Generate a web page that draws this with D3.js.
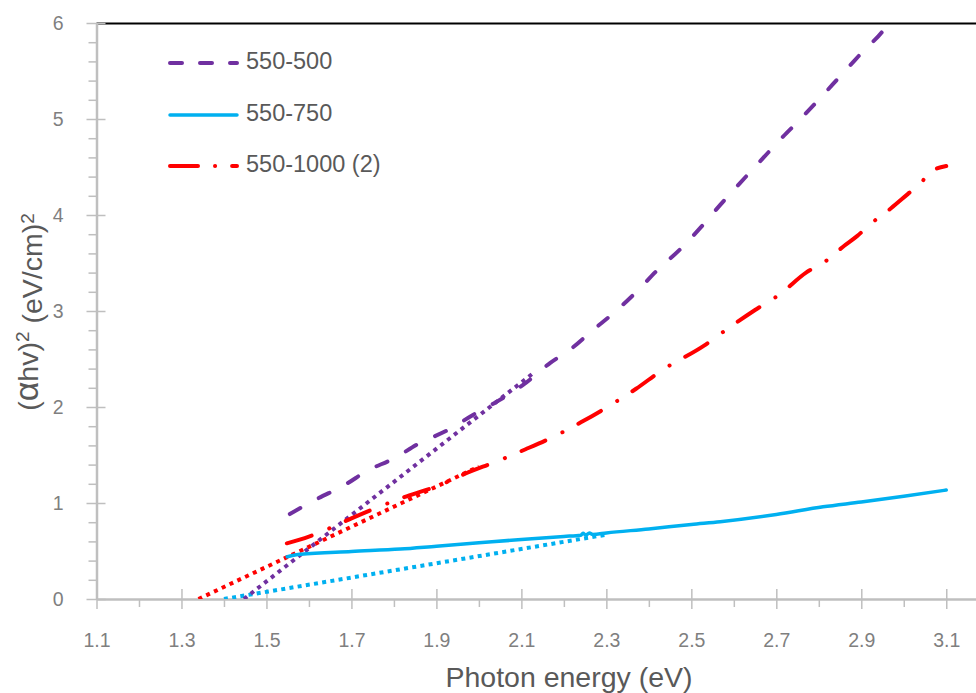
<!DOCTYPE html>
<html>
<head>
<meta charset="utf-8">
<script src="https://cdn.jsdelivr.net/npm/d3@7"></script>
<style>
  html, body { margin: 0; padding: 0; background: #fff; }
  svg { display: block; font-family: "Liberation Sans", Arial, sans-serif; }
</style>
</head>
<body>
<svg id="chart" width="976" height="693"></svg>
<script>
// (αhv)² versus photon energy for three samples, with linear band-gap fits
const xTicks = [1.1, 1.3, 1.5, 1.7, 1.9, 2.1, 2.3, 2.5, 2.7, 2.9, 3.1];
const yTicks = [0, 1, 2, 3, 4, 5, 6];
const seriesNames = ["550-500", "550-750", "550-1000 (2)"];

// [photon energy (eV), (αhv)²]
const series500 = [
  [1.555, 0.885], [1.618, 1.04], [1.685, 1.19], [1.739, 1.34], [1.798, 1.46],
  [1.861, 1.625], [1.927, 1.76], [1.986, 1.917], [2.042, 2.055], [2.104, 2.23],
  [2.168, 2.46], [2.218, 2.61], [2.268, 2.80], [2.32, 2.99], [2.371, 3.20],
  [2.421, 3.43], [2.473, 3.64], [2.52, 3.86], [2.567, 4.10], [2.614, 4.33],
  [2.661, 4.555], [2.708, 4.78], [2.759, 5.01], [2.806, 5.23], [2.853, 5.46],
  [2.903, 5.70], [2.959, 5.97], [2.966, 6.02]
];
const series750 = [
  [1.549, 0.44], [1.58, 0.465], [1.7, 0.495], [1.815, 0.52], [1.9, 0.55],
  [2.0, 0.585], [2.1, 0.62], [2.2, 0.652], [2.24, 0.664], [2.245, 0.684],
  [2.252, 0.666], [2.26, 0.688], [2.268, 0.672], [2.3, 0.688], [2.4, 0.73],
  [2.5, 0.777], [2.568, 0.805], [2.7, 0.88], [2.81, 0.96], [2.9, 1.01],
  [3.0, 1.07], [3.1, 1.135]
];
const series1000 = [
  [1.548, 0.58], [1.6, 0.65], [1.65, 0.74], [1.7, 0.84], [1.77, 0.97],
  [1.83, 1.07], [1.91, 1.19], [1.97, 1.31], [2.04, 1.43], [2.11, 1.56],
  [2.18, 1.70], [2.24, 1.84], [2.31, 2.02], [2.37, 2.19], [2.43, 2.38],
  [2.53, 2.64], [2.59, 2.83], [2.65, 3.01], [2.71, 3.18], [2.77, 3.40],
  [2.81, 3.50], [2.86, 3.68], [2.89, 3.78], [2.92, 3.90], [2.97, 4.07],
  [3.01, 4.22], [3.04, 4.33], [3.06, 4.44], [3.1, 4.51]
];

// linear fits extrapolated to the energy axis
const fit500 = [[1.447, 0], [2.13, 2.36]];
const fit750 = [[1.40, 0], [2.30, 0.67]];
const fit1000 = [[1.34, 0], [2.0, 1.38]];

const colors = { s500: "#7030A0", s750: "#00B0F0", s1000: "#FF0000" };

const svg = d3.select("#chart");
const plotLeft = 96.5, plotRight = 976, plotTop = 23, plotBottom = 599;

const x = d3.scaleLinear().domain([1.1, 3.17]).range([plotLeft, plotRight]);
const y = d3.scaleLinear().domain([0, 6]).range([plotBottom, plotTop]);

const axisGray = "#bfbfbf";
const tickText = "#7f7f7f";
const titleText = "#595959";

// top frame line
svg.append("line")
  .attr("x1", plotLeft).attr("x2", plotRight)
  .attr("y1", plotTop + 0.5).attr("y2", plotTop + 0.5)
  .attr("stroke", "#000").attr("stroke-width", 2);

// minor ticks
const xMinor = d3.range(1.2, 3.1, 0.2);
svg.append("g")
  .attr("transform", `translate(0,${plotBottom})`)
  .call(d3.axisBottom(x).tickValues(xMinor).tickSize(8).tickFormat(""))
  .call(g => g.select(".domain").remove())
  .call(g => g.selectAll("line").attr("stroke", axisGray).attr("stroke-width", 1.5));

const yMinor = d3.range(0, 6.001, 0.2).filter(v => Math.abs(v - Math.round(v)) > 0.01);
svg.append("g")
  .attr("transform", `translate(${plotLeft},0)`)
  .call(d3.axisLeft(y).tickValues(yMinor).tickSize(8).tickFormat(""))
  .call(g => g.select(".domain").remove())
  .call(g => g.selectAll("line").attr("stroke", axisGray).attr("stroke-width", 1.5));

// major x axis
const gx = svg.append("g")
  .attr("transform", `translate(0,${plotBottom})`)
  .call(d3.axisBottom(x).tickValues(xTicks).tickFormat(d3.format(".1f")).tickSizeOuter(0));
gx.select(".domain").attr("stroke", axisGray).attr("stroke-width", 2.5);
gx.selectAll(".tick line").attr("stroke", axisGray).attr("stroke-width", 1.5)
  .attr("y1", -10).attr("y2", 10);
gx.selectAll(".tick text")
  .attr("y", 48).attr("dy", 0)
  .attr("fill", tickText).style("font-size", "19.5px")
  .style("font-family", "'Liberation Sans', Arial, sans-serif");

// major y axis
const gy = svg.append("g")
  .attr("transform", `translate(${plotLeft},0)`)
  .call(d3.axisLeft(y).tickValues(yTicks).tickFormat(d3.format("d")).tickSizeOuter(0));
gy.select(".domain").attr("stroke", axisGray).attr("stroke-width", 2.5);
gy.selectAll(".tick line").attr("stroke", axisGray).attr("stroke-width", 1.5)
  .attr("x1", -10).attr("x2", 9);
gy.selectAll(".tick text")
  .attr("x", -33).attr("dy", "0.35em")
  .attr("fill", tickText).style("font-size", "19.5px")
  .style("font-family", "'Liberation Sans', Arial, sans-serif");

// clip region for data lines
svg.append("clipPath").attr("id", "plotClip")
  .append("rect")
  .attr("x", plotLeft).attr("y", plotTop)
  .attr("width", plotRight - plotLeft).attr("height", plotBottom - plotTop);

const plot = svg.append("g").attr("clip-path", "url(#plotClip)");

const line = d3.line()
  .x(d => x(d[0]))
  .y(d => y(d[1]))
  .curve(d3.curveMonotoneX);

// fitted lines (dotted)
plot.append("path").datum(fit750)
  .attr("d", line).attr("fill", "none")
  .attr("stroke", colors.s750).attr("stroke-width", 4)
  .attr("stroke-dasharray", "4,4.3");
plot.append("path").datum(fit1000)
  .attr("d", line).attr("fill", "none")
  .attr("stroke", colors.s1000).attr("stroke-width", 4)
  .attr("stroke-dasharray", "4,4.6");
plot.append("path").datum(fit500)
  .attr("d", line).attr("fill", "none")
  .attr("stroke", colors.s500).attr("stroke-width", 4)
  .attr("stroke-dasharray", "4,4.6");

// measured curves
const styles = [
  { data: series500, color: colors.s500, dash: "12,21", legendDash: "12,18", width: 4 },
  { data: series750, color: colors.s750, dash: null, legendDash: null, width: 3.5 },
  { data: series1000, color: colors.s1000, dash: "26,19,0.1,18", legendDash: "28,17,0.1,17", width: 4 }
];

styles.forEach(s => {
  plot.append("path").datum(s.data)
    .attr("d", line).attr("fill", "none")
    .attr("stroke", s.color).attr("stroke-width", s.width)
    .attr("stroke-linecap", "round").attr("stroke-linejoin", "round")
    .attr("stroke-dasharray", s.dash);
});

// legend
const legendRows = [63, 115, 166];
const legend = svg.append("g");
styles.forEach((s, i) => {
  const ly = legendRows[i];
  legend.append("line")
    .attr("x1", 170).attr("x2", 237)
    .attr("y1", ly).attr("y2", ly)
    .attr("stroke", s.color).attr("stroke-width", s.width)
    .attr("stroke-linecap", "round")
    .attr("stroke-dasharray", s.legendDash);
  legend.append("text")
    .attr("x", 246).attr("y", ly + 5.5)
    .attr("fill", titleText)
    .style("font-size", "23.5px")
    .text(seriesNames[i]);
});

// axis titles
svg.append("text")
  .attr("x", 569).attr("y", 687)
  .attr("text-anchor", "middle")
  .attr("fill", titleText)
  .style("font-size", "28.5px")
  .text("Photon energy (eV)");

const yTitle = svg.append("text")
  .attr("transform", "translate(38,312) rotate(-90)")
  .attr("text-anchor", "middle")
  .attr("fill", titleText)
  .style("font-size", "28.5px");
yTitle.append("tspan").text("(");
yTitle.append("tspan").style("font-size", "34px").text("α");
yTitle.append("tspan").text("hv)");
yTitle.append("tspan").attr("dy", "-0.45em").style("font-size", "19px").text("2");
yTitle.append("tspan").attr("dy", "0.45em").text(" (eV/cm)");
yTitle.append("tspan").attr("dy", "-0.45em").style("font-size", "19px").text("2");
</script>
</body>
</html>
